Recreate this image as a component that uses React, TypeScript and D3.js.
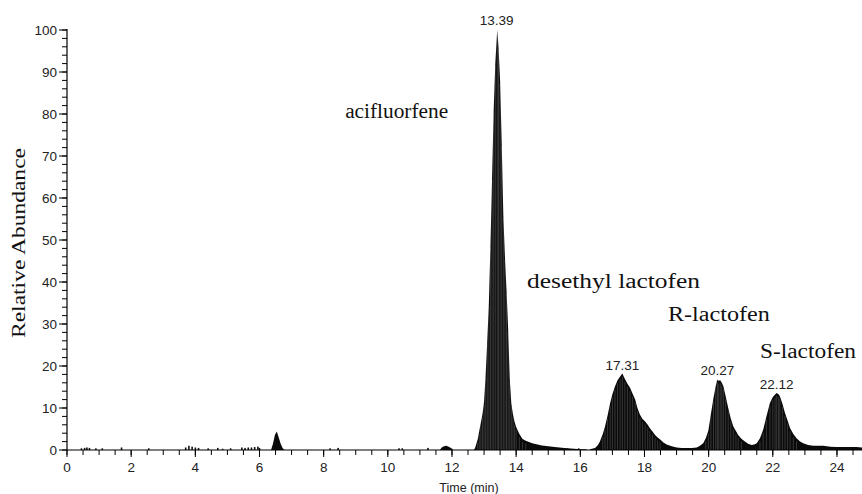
import React from "react";
import * as d3 from "d3";

// retention time (min), relative abundance (%)
const mainPeak: [number, number][] = [
  [12.68, 0], [12.72, 0.5], [12.76, 1.5], [12.8, 2.5], [12.85, 4.5], [12.9, 6.5],
  [12.95, 8.5], [13.0, 11.5], [13.05, 18], [13.1, 26], [13.15, 35], [13.2, 49],
  [13.25, 65], [13.3, 81], [13.35, 92], [13.41, 100], [13.45, 96], [13.5, 88],
  [13.55, 73], [13.6, 56], [13.65, 46], [13.7, 38], [13.75, 29], [13.8, 17],
  [13.85, 11], [13.9, 8.5], [13.95, 6.7], [14.0, 5.5], [14.1, 3.8], [14.2, 2.6],
  [14.3, 2.2], [14.4, 1.9], [14.5, 1.6], [14.6, 1.4], [14.8, 1.1], [15.0, 0.9],
  [15.2, 0.7], [15.5, 0.5], [15.8, 0.3], [16.0, 0.2], [16.2, 0.2],
];

const latePeaks: [number, number][] = [
  [16.3, 0.2], [16.46, 0.5], [16.55, 1.2], [16.61, 2], [16.7, 3.8], [16.77, 5.6],
  [16.85, 8.2], [16.93, 11.2], [17.0, 13.3], [17.08, 15.1], [17.16, 16.6],
  [17.24, 17.5], [17.31, 18.2], [17.39, 16.9], [17.47, 15.8], [17.55, 14.8],
  [17.63, 13.4], [17.71, 12], [17.78, 10], [17.86, 8.4], [17.94, 7.4], [18.02, 6.8],
  [18.1, 6], [18.17, 5.2], [18.25, 4.4], [18.33, 3.6], [18.41, 3], [18.49, 2.5],
  [18.59, 1.8], [18.69, 1.3], [18.85, 0.9], [19.0, 0.6], [19.16, 0.5], [19.32, 0.5],
  [19.48, 0.5], [19.63, 0.6], [19.73, 1], [19.83, 1.6], [19.91, 2.8], [19.99, 4.6],
  [20.07, 8.5], [20.15, 12.4], [20.22, 15.2], [20.27, 16.8], [20.3, 16.5],
  [20.36, 16.6], [20.41, 16], [20.46, 15.2], [20.53, 12.8], [20.61, 10],
  [20.69, 7.5], [20.77, 5.6], [20.85, 4.5], [20.92, 3.6], [21.02, 2.7], [21.13, 2],
  [21.23, 1.5], [21.34, 1.2], [21.42, 1.3], [21.5, 1.6], [21.6, 2.8], [21.7, 4.8],
  [21.8, 8], [21.91, 11.2], [22.0, 12.6], [22.07, 13.2], [22.12, 13.6],
  [22.18, 13.3], [22.22, 12.8], [22.3, 11], [22.38, 8.8], [22.46, 7], [22.54, 5.2],
  [22.64, 3.8], [22.74, 2.8], [22.85, 2], [22.95, 1.6], [23.1, 1.2], [23.26, 1],
  [23.4, 1], [23.57, 1], [23.8, 0.8], [23.99, 0.7], [24.3, 0.7], [24.6, 0.7],
  [24.78, 0.6],
];

const smallPeak: [number, number][] = [
  [6.36, 0], [6.42, 1.5], [6.48, 3.6], [6.54, 4.4], [6.6, 3], [6.66, 1.5],
  [6.72, 0.5], [6.78, 0],
];

const bump: [number, number][] = [
  [11.62, 0], [11.68, 0.6], [11.75, 0.9], [11.82, 1.0], [11.9, 0.8], [11.98, 0.4],
  [12.04, 0],
];

const noise: [number, number][] = [
  [0.45, 0.4], [0.55, 0.5], [0.62, 0.6], [0.7, 0.5], [0.9, 0.4], [1.1, 0.4],
  [1.7, 0.6], [2.55, 0.4], [3.7, 0.6], [3.8, 1.0], [3.9, 0.8], [4.0, 0.6],
  [4.1, 0.5], [4.4, 0.4], [4.7, 0.5], [4.85, 0.3], [5.1, 0.4], [5.45, 0.6],
  [5.55, 0.5], [5.65, 0.6], [5.75, 0.6], [5.85, 0.7], [5.95, 0.8], [6.0, 0.5],
  [8.2, 0.4], [8.45, 0.5], [10.35, 0.4], [10.45, 0.4], [11.25, 0.5],
  [15.3, 0.5], [15.6, 0.4], [15.95, 0.4],
];

const peakLabels = [
  { t: 13.39, v: 100, label: "13.39", dy: -5 },
  { t: 17.31, v: 18.2, label: "17.31", dy: -4 },
  { t: 20.27, v: 16.8, label: "20.27", dy: -4 },
  { t: 22.12, v: 13.6, label: "22.12", dy: -4 },
];

const compounds = [
  { name: "acifluorfene", t: 8.67, v: 79, len: 103 },
  { name: "desethyl lactofen", t: 14.34, v: 38.6, len: 173 },
  { name: "R-lactofen", t: 18.73, v: 30.6, len: 102 },
  { name: "S-lactofen", t: 21.6, v: 22, len: 96 },
];

const xMajor = d3.range(0, 25, 2);
const xMinor = d3.range(0, 24.8, 0.5);
const yMajor = d3.range(0, 101, 10);
const yMinor = d3.range(0, 101, 2);

const W = 862;
const H = 494;
const sans = "'Liberation Sans', Arial, sans-serif";
const serif = "'Liberation Serif', 'Times New Roman', serif";

export default function App() {
  const x = d3.scaleLinear().domain([0, 24.78]).range([67, 862]);
  const y = d3.scaleLinear().domain([0, 100]).range([450, 30]);

  const area = d3
    .area<[number, number]>()
    .x((d) => x(d[0]))
    .y0(y(0))
    .y1((d) => y(d[1]))
    .curve(d3.curveLinear);

  const stems = [...mainPeak, ...latePeaks].filter((d) => d[1] > 2);

  return (
    <div style={{ position: "absolute", left: 0, top: 0 }}>
      <svg width={W} height={H} style={{ display: "block", background: "#fff" }}>
        {[mainPeak, latePeaks, smallPeak, bump].map((s, i) => (
          <path key={i} d={area(s) || ""} fill="#0a0a0a" />
        ))}
        {stems.map((d, i) => (
          <line
            key={i}
            x1={x(d[0])}
            x2={x(d[0])}
            y1={y(0)}
            y2={y(d[1]) + 3}
            stroke="#fff"
            strokeOpacity={0.3}
            strokeWidth={0.6}
          />
        ))}
        {noise.map((d, i) => (
          <rect
            key={i}
            x={x(d[0]) - 0.8}
            y={y(d[1])}
            width={1.6}
            height={y(0) - y(d[1])}
            fill="#111"
          />
        ))}

        {/* x axis */}
        <line x1={x(0)} x2={W} y1={y(0)} y2={y(0)} stroke="#000" strokeWidth={1.2} />
        {xMinor.map((t) => (
          <line key={t} x1={x(t)} x2={x(t)} y1={y(0)} y2={y(0) + 5} stroke="#000" strokeWidth={1} />
        ))}
        {xMajor.map((t) => (
          <g key={t}>
            <line x1={x(t)} x2={x(t)} y1={y(0)} y2={y(0) + 7} stroke="#000" strokeWidth={1} />
            <text x={x(t)} y={472} textAnchor="middle" fontFamily={sans} fontSize={13.5} fill="#222">
              {t}
            </text>
          </g>
        ))}
        <text x={469} y={492} textAnchor="middle" fontFamily={sans} fontSize={12.5} fill="#222">
          Time (min)
        </text>

        {/* y axis */}
        <line x1={x(0)} x2={x(0)} y1={y(0)} y2={y(100) - 1} stroke="#000" strokeWidth={1.2} />
        {yMinor.map((v) => (
          <line key={v} x1={x(0) - 5} x2={x(0)} y1={y(v)} y2={y(v)} stroke="#000" strokeWidth={1} />
        ))}
        {yMajor.map((v) => (
          <g key={v}>
            <line x1={x(0) - 8} x2={x(0)} y1={y(v)} y2={y(v)} stroke="#000" strokeWidth={1} />
            <text x={57} y={y(v)} dy="0.36em" textAnchor="end" fontFamily={sans} fontSize={13.5} fill="#222">
              {v}
            </text>
          </g>
        ))}
        <text
          transform={`translate(25,243) rotate(-90)`}
          textAnchor="middle"
          fontFamily={serif}
          fontSize={19}
          textLength={190}
          lengthAdjust="spacingAndGlyphs"
          fill="#111"
        >
          Relative Abundance
        </text>

        {peakLabels.map((p) => (
          <text
            key={p.label}
            x={x(p.t)}
            y={y(p.v) + p.dy}
            textAnchor="middle"
            fontFamily={sans}
            fontSize={13.5}
            fill="#222"
          >
            {p.label}
          </text>
        ))}

        {compounds.map((c) => (
          <text
            key={c.name}
            x={x(c.t)}
            y={y(c.v)}
            fontFamily={serif}
            fontSize={20}
            textLength={c.len}
            lengthAdjust="spacingAndGlyphs"
            fill="#111"
          >
            {c.name}
          </text>
        ))}
      </svg>
    </div>
  );
}
